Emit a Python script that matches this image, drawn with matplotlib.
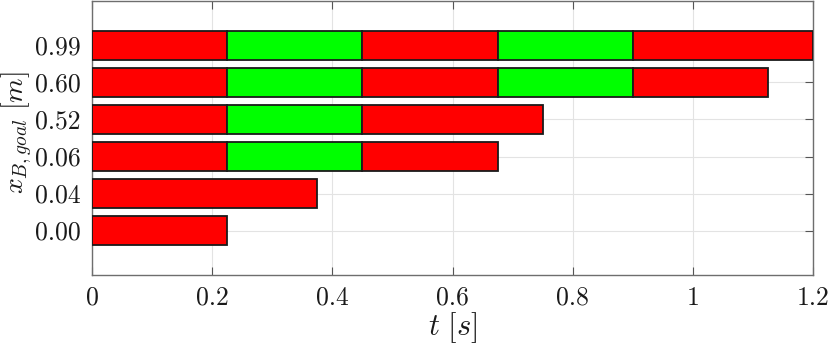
import matplotlib
matplotlib.use("Agg")
import matplotlib.pyplot as plt

plt.rcParams['font.family'] = ['cmr10', 'DejaVu Serif']
plt.rcParams['mathtext.fontset'] = 'cm'
plt.rcParams['axes.formatter.use_mathtext'] = True

categories = ['0.00', '0.04', '0.06', '0.52', '0.60', '0.99']
durations = {
    '0.00': [0.225],
    '0.04': [0.375],
    '0.06': [0.225, 0.225, 0.225],
    '0.52': [0.225, 0.225, 0.30],
    '0.60': [0.225, 0.225, 0.225, 0.225, 0.225],
    '0.99': [0.225, 0.225, 0.225, 0.225, 0.30],
}
phase_colors = ['#ff0000', '#00ff00']
x_ticks = [0, 0.2, 0.4, 0.6, 0.8, 1.0, 1.2]
x_ticklabels = ['0', '0.2', '0.4', '0.6', '0.8', '1', '1.2']

fig = plt.figure(figsize=(8.3, 3.48), dpi=100)
ax = fig.add_axes([92/830, 1-275/348, (813-92)/830, 274/348])

for i, cat in enumerate(categories):
    left = 0.0
    for j, d in enumerate(durations[cat]):
        ax.barh(i, d, left=left, height=0.8, color=phase_colors[j % 2],
                edgecolor='#1a1a1a', linewidth=1.3, zorder=3)
        left += d

ax.set_xlim(0, 1.2)
ax.set_ylim(-1.2, 6.2)
ax.set_xticks(x_ticks)
ax.set_xticklabels(x_ticklabels)
ax.set_yticks(range(len(categories)))
ax.set_yticklabels(categories)
ax.tick_params(direction='in', length=6, width=0.8, color='#555555',
               labelsize=18.5, top=True, right=True, pad=8, labelcolor='#1a1a1a')
ax.grid(True, color='#e3e3e3', linewidth=0.8, zorder=0)
ax.set_axisbelow(True)
for s in ax.spines.values():
    s.set_color('#6e6e6e')
    s.set_linewidth(1.0)
ax.set_xlabel(r'$t\ [s]$', fontsize=22, labelpad=0, color='#1a1a1a')
ax.set_ylabel(r'$x_{B,goal}\ [m]$', fontsize=20, color='#1a1a1a')
ax.yaxis.set_label_coords((34 - 92) / 721, 0.52)

fig.savefig('out.png', dpi=100)
